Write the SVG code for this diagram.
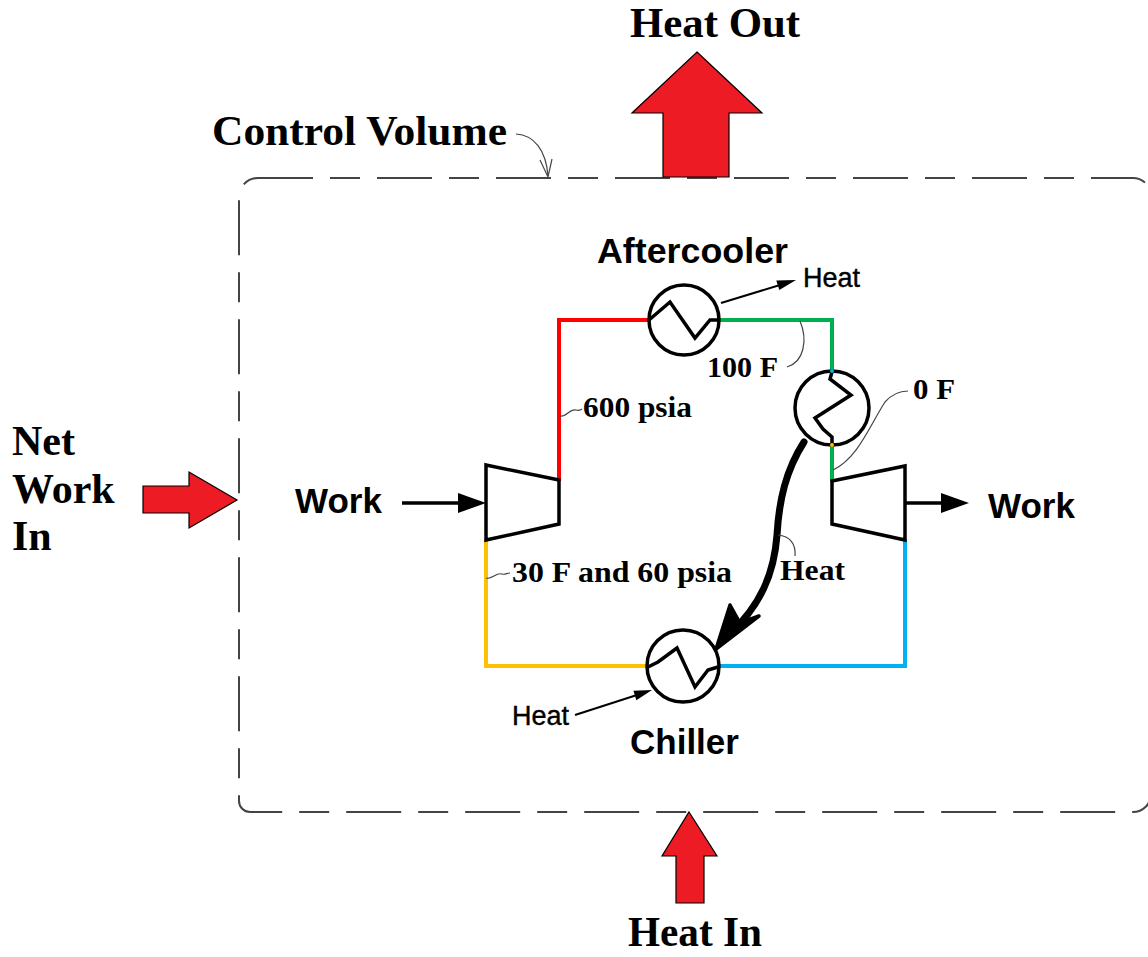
<svg xmlns="http://www.w3.org/2000/svg" width="1148" height="957" viewBox="0 0 1148 957">
<style>
.ttl{font-family:"Liberation Serif","Times New Roman",serif;font-weight:bold;font-size:42px;fill:#000}
.lbl{font-family:"Liberation Serif","Times New Roman",serif;font-weight:bold;font-size:30px;fill:#000}
.nm{font-family:"Liberation Sans",Arial,sans-serif;font-weight:bold;font-size:35px;fill:#000}
.sm{font-family:"Liberation Sans",Arial,sans-serif;font-size:27px;fill:#000;stroke:#000;stroke-width:0.4}
.big{fill:#ED1C24;stroke:#000;stroke-width:1.2}
.eq{fill:#fff;stroke:#000;stroke-width:3.5}
.zz{fill:none;stroke:#000;stroke-width:3.5;stroke-linejoin:miter}
.pipe{fill:none;stroke-width:4;stroke-linecap:square}
.lead{fill:none;stroke:#444;stroke-width:1.2}
.thin{fill:none;stroke:#000;stroke-width:2}
.cv{fill:none;stroke:#444;stroke-width:2;stroke-dasharray:55 17 30 17}
</style>

<g id="control-volume">
<path class="cv" d="M 258,178 H 1133 A 18 18 0 0 1 1151 196 V 794 A 18 18 0 0 1 1133 812 H 250 A 11 11 0 0 1 239 801 V 197 A 19 19 0 0 1 258 178 Z"/>
<text class="ttl" x="212" y="145" textLength="295" lengthAdjust="spacingAndGlyphs">Control Volume</text>
<path class="lead" d="M 516,134 C 534,135 546,150 548,176"/>
<path class="lead" d="M 540,160 L 548,177 L 552,159"/>
</g>

<g id="heat-out">
<polygon class="big" points="697,52 762,113 729,113 729,177 663,177 663,113 632,113"/>
<text class="ttl" x="630" y="37" textLength="170" lengthAdjust="spacingAndGlyphs">Heat Out</text>
</g>

<g id="heat-in">
<polygon class="big" points="689,812 717,856 704,856 704,903 676,903 676,856 662,856"/>
<text class="ttl" x="628" y="946" textLength="134" lengthAdjust="spacingAndGlyphs">Heat In</text>
</g>

<g id="net-work-in">
<polygon class="big" points="143,486 189,486 189,472 237,500 189,528 189,513 143,513"/>
<text class="ttl" x="12" y="455">Net</text>
<text class="ttl" x="12" y="503">Work</text>
<text class="ttl" x="12" y="550">In</text>
</g>

<g id="connectors">
<polyline class="pipe" stroke="#FF0000" points="559,479 559,320 648,320"/>
<polyline class="pipe" stroke="#00B050" points="720,320 832,320 832,371"/>
<polyline class="pipe" stroke="#00B050" points="832,445 832,480"/>
<polyline class="pipe" stroke="#00B0F0" points="905,541 905,666 719,666"/>
<polyline class="pipe" stroke="#FFC000" points="486,541 486,666 647,666"/>
<line x1="402" y1="503" x2="462" y2="503" stroke="#000" stroke-width="3.5"/>
<polygon points="458,493 486,503 458,513" fill="#000"/>
<line x1="905" y1="503" x2="945" y2="503" stroke="#000" stroke-width="3.5"/>
<polygon points="941,493 969,503 941,513" fill="#000"/>
<line x1="721" y1="303" x2="780" y2="285" class="thin"/>
<polygon points="796,280 779.3,290.1 776.3,280.5" fill="#000"/>
<line x1="575" y1="715" x2="637" y2="695" class="thin"/>
<polygon points="652,690 636.4,700.3 633.4,690.8" fill="#000"/>
<path d="M 804,442 C 786,470 779,500 777,535 C 774,575 760,605 730,634" fill="none" stroke="#000" stroke-width="7" stroke-linecap="round"/>
<polygon points="716,649 730,605 740,623 759,616" fill="#000" stroke="#000" stroke-width="3.5" stroke-linejoin="round"/>
</g>

<g id="compressor">
<polygon class="eq" points="486,465 559,480 559,524 486,540"/>
<text class="nm" x="295" y="513">Work</text>
</g>

<g id="turbine">
<polygon class="eq" points="832,481 905,466 905,540 832,524"/>
<text class="nm" x="988" y="518">Work</text>
</g>

<g id="aftercooler">
<circle class="eq" cx="684" cy="320" r="35"/>
<polyline class="zz" points="649,320 670,302 695,338 710,320 719,320"/>
<text class="nm" x="597" y="263" textLength="191" lengthAdjust="spacingAndGlyphs">Aftercooler</text>
<text class="sm" x="803" y="287">Heat</text>
</g>

<g id="recuperator">
<circle class="eq" cx="832" cy="408" r="37"/>
<polyline class="zz" points="832,372 830,379 851,395 815,418 823,429 832,437 832,444"/>
<circle cx="832" cy="371" r="2" fill="#00B0F0"/>
<circle cx="832" cy="445" r="2" fill="#FFC000"/>
</g>

<g id="chiller">
<circle class="eq" cx="683" cy="666" r="36"/>
<polyline class="zz" points="648,667 658,662 677,648 695,687 708,670 718,667"/>
<text class="nm" x="630" y="754">Chiller</text>
<text class="sm" x="512" y="725">Heat</text>
</g>

<g id="labels">
<text class="lbl" x="583" y="417" textLength="109" lengthAdjust="spacingAndGlyphs">600 psia</text>
<path class="lead" d="M 560,416 C 566,418 570,408 576,410 C 579,411 580,410 582,409"/>
<text class="lbl" x="707" y="377" textLength="71" lengthAdjust="spacingAndGlyphs">100 F</text>
<path class="lead" d="M 800,321 C 808,340 804,362 787,367"/>
<text class="lbl" x="913" y="399" textLength="42" lengthAdjust="spacingAndGlyphs">0 F</text>
<path class="lead" d="M 833,470 C 858,458 870,425 885,402 C 893,393 900,391 908,391"/>
<text class="lbl" x="512" y="582" textLength="220" lengthAdjust="spacingAndGlyphs">30 F and 60 psia</text>
<path class="lead" d="M 486,578 C 492,580 496,572 502,574 C 505,575 507,573 510,573"/>
<text class="lbl" x="780" y="580" textLength="65" lengthAdjust="spacingAndGlyphs">Heat</text>
<path class="lead" d="M 778,535 C 790,536 796,544 795,556"/>
</g>
</svg>
